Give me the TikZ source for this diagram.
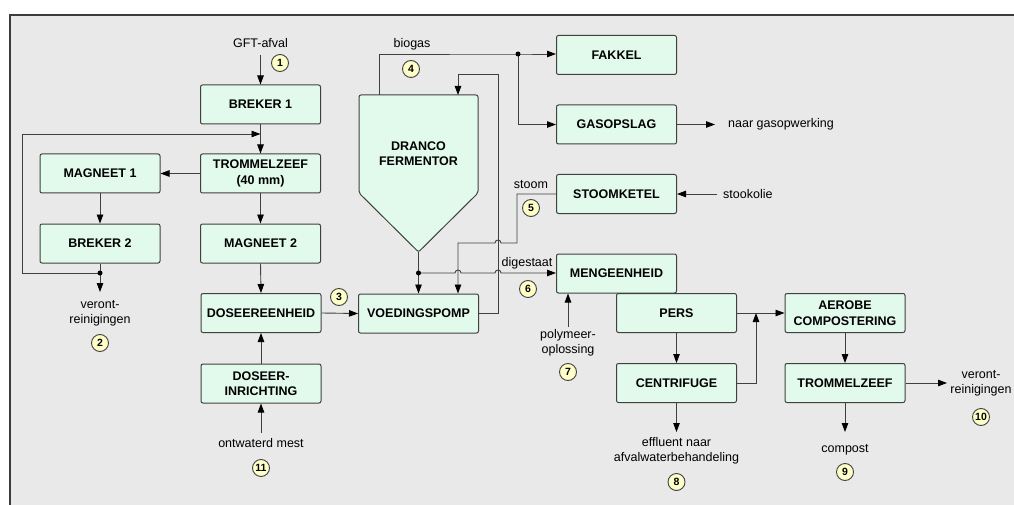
\documentclass[tikz,border=0pt]{standalone}
\usepackage{fontspec}
\setmainfont{Liberation Sans}
\usetikzlibrary{arrows.meta}
\definecolor{bg}{RGB}{233,233,233}
\definecolor{boxfill}{RGB}{226,250,236}
\definecolor{numfill}{RGB}{255,255,200}
\definecolor{linec}{RGB}{64,64,64}
\definecolor{framec}{RGB}{60,60,60}
\begin{document}
\begin{tikzpicture}[x=1pt,y=-1pt,
  box/.style={draw=linec, line width=1pt, fill=boxfill, rounded corners=2pt, minimum width=120pt, minimum height=39pt, font=\fontsize{12.5}{15.5}\selectfont\bfseries, align=center, inner sep=1pt},
  lbl/.style={font=\fontsize{12.5}{15}\selectfont, align=center, inner sep=0pt},
  num/.style={circle, draw=linec, line width=0.9pt, fill=numfill, minimum size=17pt, inner sep=0pt, font=\fontsize{10.5}{12}\selectfont\bfseries},
  flow/.style={draw=linec, line width=0.9pt, -{Triangle[length=9pt,width=6.5pt,color=black]}},
  pipe/.style={draw=linec, line width=0.9pt},
  dot/.style={circle, fill=black, inner sep=0pt, minimum size=5pt},
]
\useasboundingbox (0,0) rectangle (1014,505);
\fill[bg] (10,15) rectangle (1014,505);
\draw[framec, line width=1.5pt] (10,505) -- (10,15) -- (1014,15);

% boxes
\node[box] (breker1) at (260.5,104.5) {BREKER 1};
\node[box] (trommel1) at (260.5,173.5) {TROMMELZEEF\\(40 mm)};
\node[box] (magneet1) at (100,173.5) {MAGNEET 1};
\node[box] (breker2) at (100,243.5) {BREKER 2};
\node[box] (magneet2) at (260.5,243.5) {MAGNEET 2};
\node[box] (dosering) at (261,313) {DOSEEREENHEID};
\node[box] (doseerinr) at (261,383.5) {DOSEER-\\INRICHTING};
\node[box] (fakkel) at (616.5,55) {FAKKEL};
\node[box] (gasopslag) at (616.5,124.5) {GASOPSLAG};
\node[box] (stoomketel) at (616.5,194) {STOOMKETEL};
\node[box] (meng) at (616.5,273.5) {MENGEENHEID};
\node[box] (voeding) at (418.5,313.5) {VOEDINGSPOMP};
\node[box] (pers) at (676.5,313) {PERS};
\node[box] (centrifuge) at (676.5,383) {CENTRIFUGE};
\node[box] (aerobe) at (845,313) {AEROBE\\COMPOSTERING};
\node[box] (trommel2) at (845,383) {TROMMELZEEF};

% fermentor
\draw[draw=linec, line width=1pt, fill=boxfill, rounded corners=2pt]
  (359,95) -- (478,95) -- (478,193) -- (418.5,252) -- (359,193) -- cycle;
\node[font=\fontsize{12.5}{15}\selectfont\bfseries, align=center] (ferm) at (418.5,153.5) {DRANCO\\FERMENTOR};
\coordinate (fgas) at (379,95);
\coordinate (frec) at (458,95);
\coordinate (ftip) at (418.5,252);

% labels
\node[lbl] (gft) at (260.5,43) {GFT-afval};
\node[lbl] (veront1) at (100,313.5) {veront-\\reinigingen};
\node[lbl] (mest) at (261,443) {ontwaterd mest};
\node[lbl] (biogas) at (412,44) {biogas};
\node[lbl, anchor=west] (gasopw) at (728,124.5) {naar gasopwerking};
\node[lbl, anchor=west] (stookolie) at (723,194) {stookolie};
\node[lbl] (stoom) at (531,185) {stoom};
\node[lbl] (digestaat) at (527,263) {digestaat};
\node[lbl] (polymeer) at (568,342.5) {polymeer-\\oplossing};
\node[lbl] (effluent) at (676.5,450.5) {effluent naar\\afvalwaterbehandeling};
\node[lbl] (compost) at (845,450) {compost};
\node[lbl] (veront2) at (981,383) {veront-\\reinigingen};

% numbers
\node[num] (n1) at (280,63) {1};
\node[num] (n2) at (100,343) {2};
\node[num] (n3) at (339,297) {3};
\node[num] (n4) at (411,69) {4};
\node[num] (n5) at (531,208) {5};
\node[num] (n6) at (528,289) {6};
\node[num] (n7) at (568,372) {7};
\node[num] (n8) at (676.5,482) {8};
\node[num] (n9) at (845,472) {9};
\node[num] (n10) at (981,417) {10};
\node[num] (n11) at (261,468) {11};

% coordinates
\coordinate (gftin) at (260.5,55);
\coordinate (loopin) at (260.5,134);
\coordinate (dot2) at (100,273);
\coordinate (out2) at (100,292);
\coordinate (mestin) at (261,433);
\coordinate (gasout) at (715,124.5);
\coordinate (oilin) at (717,194);
\coordinate (gasdot) at (518,54);
\coordinate (digdot) at (418.5,273);
\coordinate (polyin) at (568,327);
\coordinate (cjoin) at (756,313);
\coordinate (out8) at (676.5,432);
\coordinate (out9) at (845,432);
\coordinate (out10) at (947,383);

% connectors left column
\draw[flow] (gftin) -- (breker1.north);
\draw[flow] (breker1.south) -- (trommel1.north);
\draw[flow] (dot2) -- (22,273) -- (22,134) -- (loopin);
\draw[flow] (trommel1.west) -- (magneet1.east);
\draw[flow] (magneet1.south) -- (breker2.north);
\draw[flow] (breker2.south) -- (out2);
\node[dot] at (dot2) {};
\draw[flow] (trommel1.south) -- (magneet2.north);
\draw[flow] (magneet2.south) -- (dosering.north);
\draw[flow] (doseerinr.north) -- (dosering.south);
\draw[flow] (mestin) -- (doseerinr.south);
\draw[flow] (dosering.east) -- (voeding.west);

% biogas
\draw[flow] (fgas) -- (379,54) -- (gasdot) -- (fakkel.west |- gasdot);
\draw[flow] (gasdot) -- (518,124.5) -- (gasopslag.west);
\node[dot] at (gasdot) {};
\draw[flow] (gasopslag.east) -- (gasout);
\draw[flow] (oilin) -- (stoomketel.east);

% recirculation
\draw[flow] (voeding.east |- 0,313) -- (498,313) -- (498,74) -- (458,74) -- (frec);

% steam
\draw[flow] (stoomketel.west) -- (517,194) -- (517,243) -- (501,243)
  arc[start angle=360, end angle=180, radius=3] -- (458,243) -- (voeding.north -| 458,0);

% digestate
\draw[flow] (ftip) -- (voeding.north -| ftip);
\draw[flow] (digdot) -- (455,273) arc[start angle=180, end angle=360, radius=3]
  -- (495,273) arc[start angle=180, end angle=360, radius=3] -- (meng.west |- digdot);
\node[dot] at (digdot) {};
\draw[flow] (polyin) -- (meng.south -| polyin);

% right part
\draw[flow] (pers.east) -- (aerobe.west);
\draw[flow] (centrifuge.east) -- (cjoin |- centrifuge.east) -- (cjoin);
\draw[flow] (pers.south) -- (centrifuge.north);
\draw[flow] (centrifuge.south) -- (out8);
\draw[flow] (aerobe.south) -- (trommel2.north);
\draw[flow] (trommel2.south) -- (out9);
\draw[flow] (trommel2.east) -- (out10);
\end{tikzpicture}
\end{document}
